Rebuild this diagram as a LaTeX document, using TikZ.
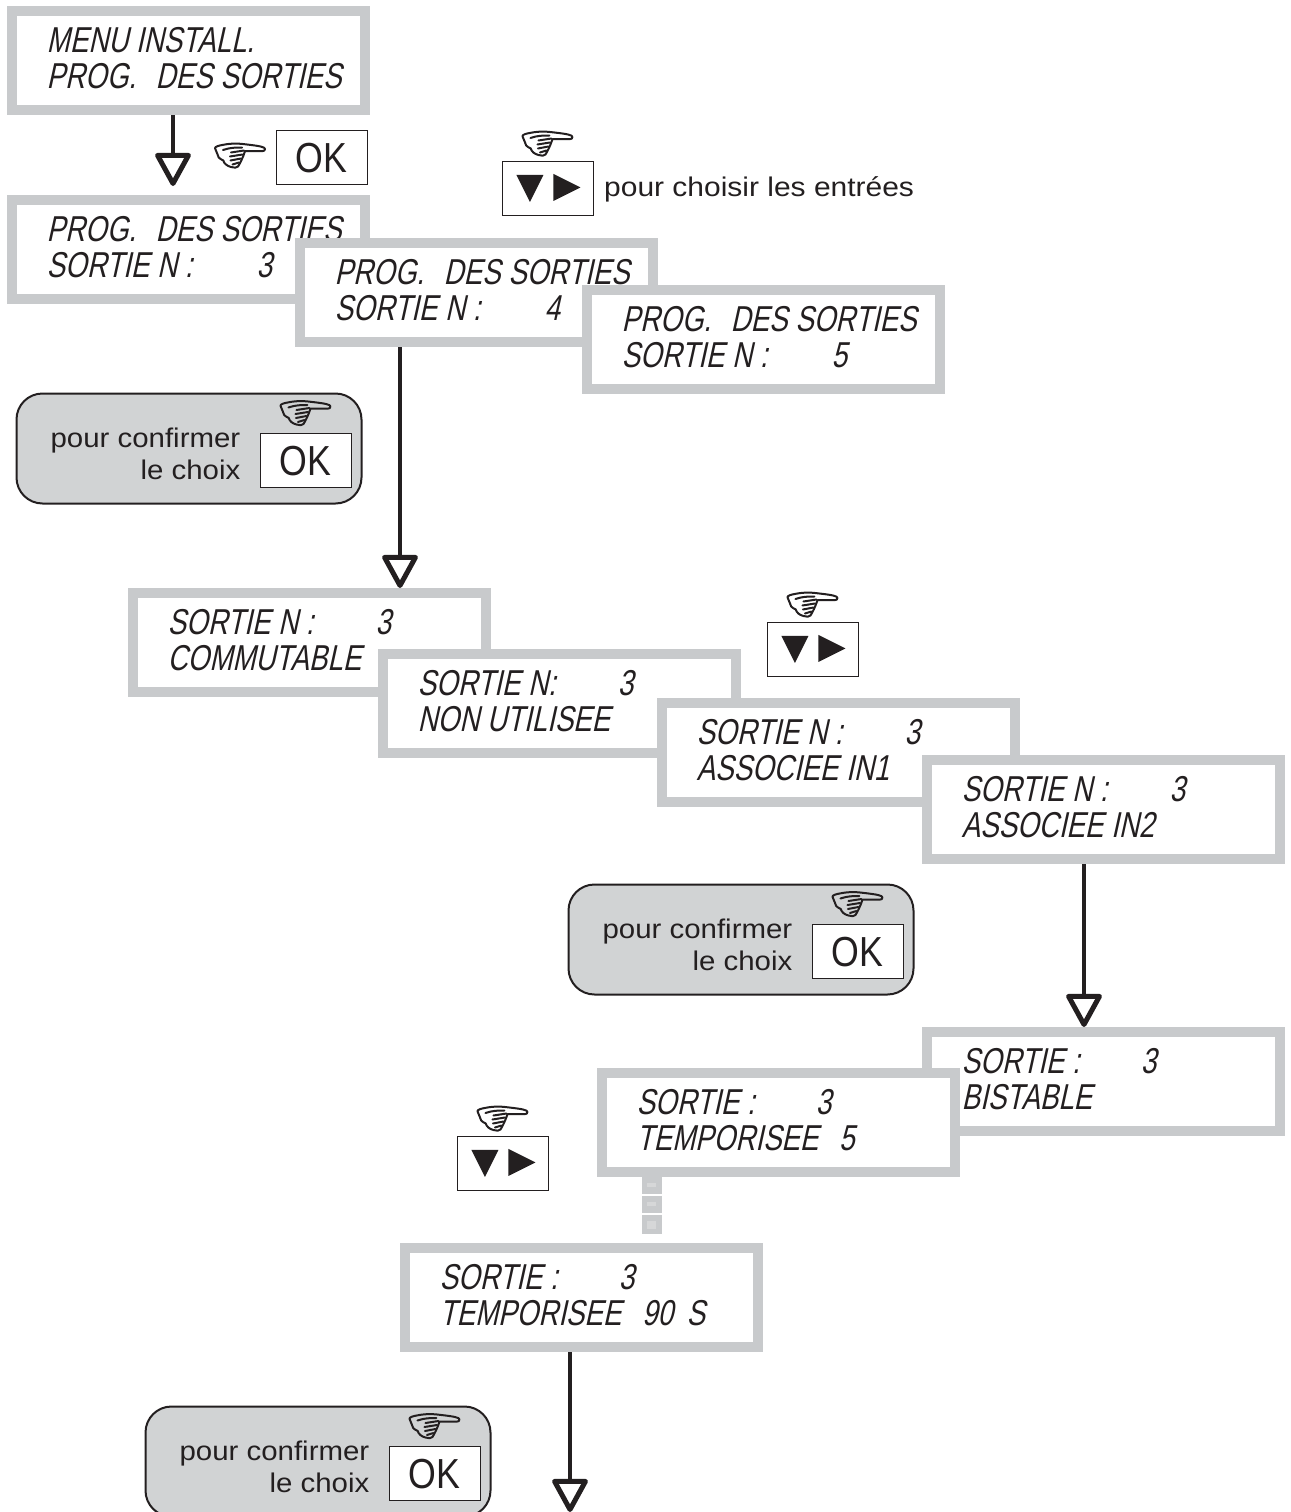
\documentclass[tikz,border=0pt]{standalone}
\usepackage{fontspec}
\setmainfont{Liberation Sans}
\newfontfamily\lcdfont[FakeStretch=.77,FakeSlant=.22]{Liberation Sans}
\newfontfamily\okfont[FakeStretch=.85]{Liberation Sans}
\newfontfamily\bodyfont[FakeStretch=1.09]{Liberation Sans}
\newfontfamily\widefont[FakeStretch=1.11]{Liberation Sans}
\usetikzlibrary{arrows.meta}
\definecolor{lcdgray}{HTML}{C8CACC}
\definecolor{panelgray}{HTML}{D1D3D4}
\definecolor{dotinner}{HTML}{D6D7D8}
\definecolor{ink}{HTML}{231F20}
\tikzset{
 lcdbox/.style={draw=lcdgray,line width=10pt,fill=white,minimum width=353pt,minimum height=99pt,anchor=north west,inner sep=0pt},
 lcdtext/.style={anchor=base west,inner sep=0pt,text=ink,font=\lcdfont\fontsize{36}{36}\selectfont},
 keybox/.style={draw=ink,line width=.9pt,fill=white,minimum width=91pt,minimum height=54pt,anchor=north west,inner sep=0pt},
 oktext/.style={text=ink,inner sep=0pt,font=\okfont\fontsize{42}{42}\selectfont},
 label/.style={text=ink,inner sep=0pt,anchor=base east,font=\bodyfont\fontsize{27}{27}\selectfont},
 panel/.style={draw=ink,line width=2pt,fill=panelgray,rounded corners=26pt,minimum width=345pt,minimum height=110pt,anchor=north west,inner sep=0pt},
 flow/.style={draw=ink,line width=4.5pt,-{Triangle[open,length=36pt,width=38pt,line width=5pt,round=false]}},
 tri/.style={fill=ink,draw=none},
 dotsq/.style={fill=lcdgray,draw=none,minimum width=20pt,inner sep=0pt,anchor=north west},
 handicon/.pic={
  \draw[ink,line width=2pt,line join=round,line cap=round]
   (25,-6.5) .. controls (25,-8.5) and (20,-9.5) .. (7,-11)
   .. controls (0,-12) and (-8,-12.5) .. (-16.7,-10.7)
   .. controls (-21,-10) and (-25,-9) .. (-25,-7.3)
   .. controls (-25,-5) and (-22.7,-4) .. (-22.7,-1.7)
   .. controls (-22.7,1) and (-21,3) .. (-16.7,5)
   .. controls (-16,8) and (-13,10.5) .. (-9,11.5)
   .. controls (-6,12.5) and (-3,12.5) .. (-2,11)
   .. controls (0,8) and (3,2) .. (5,-4.3)
   -- (22,-4.3) .. controls (24,-4.4) and (25,-5) .. (25,-6.5);
  \draw[ink,line width=2pt,line cap=round]
   (-17,-5.5) .. controls (-10,-8) and (-4,-8) .. (2,-8)
   (-9,-3) -- (4,-5)
   (-10,1) -- (2.5,-1)
   (-9.5,5) -- (1,3)
   (-7.5,9) -- (-1,7);
 },
}
\newcommand{\lcd}[5]{%
 \node[lcdbox] (#1) at (#2,#3) {};
 \node[lcdtext] (#1a) at ([xshift=39.5,yshift=-46.5]#1.north west) {#4};
 \node[lcdtext] (#1b) at ([xshift=39.5,yshift=-82.5]#1.north west) {#5};
}
\newcommand{\okkey}[4]{%
 \node[keybox] (#1) at (#2,#3) {};
 \node[oktext] (#1t) at ([yshift=-1]#1.center) {OK};
 \pic at (#4) {handicon};
}
\newcommand{\arrkey}[3]{%
 \node[keybox] (#1) at (#2,#3) {};
 \fill[tri] ([xshift=-31,yshift=13]#1.center) -- ++(27,0) -- ++(-13.5,27) -- cycle;
 \fill[tri] ([xshift=6,yshift=14]#1.center) -- ++(27,13.5) -- ++(-27,13.5) -- cycle;
 \pic at ([yshift=17]#1.north) {handicon};
}
\newcommand{\confirm}[3]{%
 \node[panel] (#1) at (#2,#3) {};
 \node[keybox] (#1k) at ([xshift=244,yshift=-40.5]#1.north west) {};
 \node[oktext] (#1t) at ([yshift=-1]#1k.center) {OK};
 \pic at ([yshift=20]#1k.north) {handicon};
 \node[label] (#1a) at ([xshift=-19,yshift=-14]#1k.north west) {pour confirmer};
 \node[label] (#1b) at ([xshift=-19,yshift=-46]#1k.north west) {le choix};
}
\begin{document}
\begin{tikzpicture}[x=1pt,y=-1pt]
\useasboundingbox (0,0) rectangle (1290,1512);
\clip (0,0) rectangle (1290,1512);
\lcd{a}{7}{6}{MENU INSTALL.}{PROG.\hspace{12pt} DES SORTIES}
\lcd{b}{7}{195}{PROG.\hspace{12pt} DES SORTIES}{SORTIE N :\hspace{64pt}3}
\lcd{c}{295}{238}{PROG.\hspace{12pt} DES SORTIES}{SORTIE N :\hspace{64pt}4}
\lcd{d}{582}{285}{PROG.\hspace{12pt} DES SORTIES}{SORTIE N :\hspace{64pt}5}
\lcd{e}{128}{588}{SORTIE N :\hspace{62pt}3}{COMMUTABLE}
\lcd{f}{378}{649}{SORTIE N:\hspace{62pt}3}{NON UTILISEE}
\lcd{g}{657}{698}{SORTIE N :\hspace{62pt}3}{ASSOCIEE IN1}
\lcd{h}{922}{755}{SORTIE N :\hspace{62pt}3}{ASSOCIEE IN2}
\lcd{i}{922}{1027}{SORTIE :\hspace{61pt}3}{BISTABLE}
\lcd{j}{597}{1068}{SORTIE :\hspace{61pt}3}{TEMPORISEE\hspace{13pt} 5}
\lcd{k}{400}{1243}{SORTIE :\hspace{61pt}3}{TEMPORISEE\hspace{13pt} 90\hspace{6pt} S}

\okkey{ok1}{275.5}{129.5}{240,155.5}
\arrkey{ak1}{501.5}{160.5}
\node[text=ink,inner sep=0pt,anchor=base west,font=\widefont\fontsize{27}{27}\selectfont] (choose) at (604,196) {pour choisir les entrées};
\arrkey{ak2}{766.5}{621.5}
\arrkey{ak3}{456.5}{1135.5}
\confirm{p1}{15.5}{392.5}
\confirm{p2}{567.5}{883.5}
\confirm{p3}{144.5}{1405.5}

\node[dotsq,minimum height=17pt] (s1) at (642,1177) {};
\node[dotsq,minimum height=17pt] (s2) at (642,1196) {};
\node[dotsq,minimum height=19pt] (s3) at (642,1215) {};
\fill[dotinner] (647,1183) rectangle (656,1187);
\fill[dotinner] (647,1202) rectangle (656,1206);
\fill[dotinner] (647,1221) rectangle (656,1229);

\coordinate (end4) at (570,1512);
\draw[flow,shorten >=9pt] (173,0 |- a.south) -- (173,0 |- b.north);
\draw[flow] (400,0 |- c.south) -- (400,0 |- e.north);
\draw[flow] (1084,0 |- h.south) -- (1084,0 |- i.north);
\draw[flow] (570,0 |- k.south) -- (end4);
\end{tikzpicture}
\end{document}
